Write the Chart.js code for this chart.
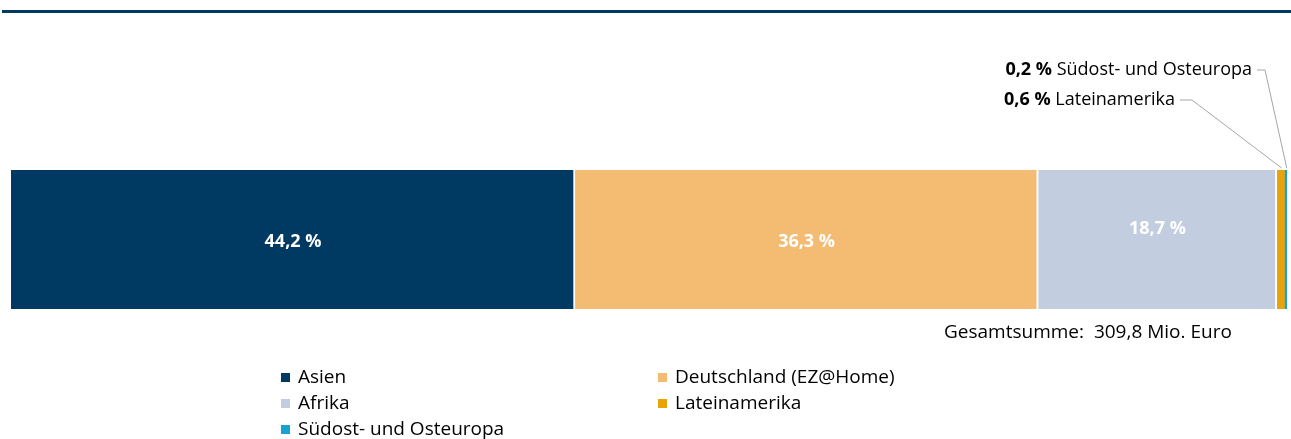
<!DOCTYPE html>
<html>
<head>
<meta charset="utf-8">
<script src="https://cdn.jsdelivr.net/npm/chart.js@4.4.0/dist/chart.umd.min.js"></script>
<style>
  body { margin: 0; background: #fff; font-family: "Open Sans", sans-serif; }
  #wrap { position: relative; width: 1291px; height: 439px; overflow: hidden; }
  #topline { position: absolute; left: 2px; right: 0; top: 10px; height: 3px; background: #003a63; }
  #total { position: absolute; left: 944px; top: 318px; font-size: 19px; color: #000; white-space: nowrap; }
  #legend { position: absolute; left: 281px; top: 363px; display: grid; grid-template-columns: 377px auto; font-size: 19px; line-height: 26px; color: #000; }
  #legend .item span { display: inline-block; width: 9px; height: 9px; margin-right: 8px; vertical-align: 1px; }
  canvas { position: absolute; left: 0; top: 0; }
</style>
</head>
<body>
<div id="wrap">
  <div id="topline"></div>
  <canvas id="bar-chart" width="1291" height="439"></canvas>
  <div id="total"></div>
  <div id="legend"></div>
</div>
<script>
const regions = ["Asien", "Deutschland (EZ@Home)", "Afrika", "Lateinamerika", "Südost- und Osteuropa"];
const shares = [44.2, 36.3, 18.7, 0.6, 0.2];
const colors = ["#003a63", "#f4bb73", "#c2cde0", "#e9a30a", "#17a2d2"];
const totalSum = "309,8";

// where the small shares get their callout text (right edge, vertical middle)
const callouts = {
  3: { x: 1175, y: 100, tick: 12 },
  4: { x: 1252, y: 70, tick: 8 }
};
const labelShift = [2, 2, -11];

function fmt(v) {
  return v.toFixed(1).replace(".", ",");
}

const labelPlugin = {
  id: "segLabels",
  afterDatasetsDraw(chart) {
    const ctx = chart.ctx;
    ctx.save();
    chart.data.datasets.forEach((ds, i) => {
      const bar = chart.getDatasetMeta(i).data[0];
      const cx = (bar.x + bar.base) / 2;
      if (!callouts[i]) {
        ctx.font = "bold 18px 'Open Sans', sans-serif";
        ctx.fillStyle = "#fff";
        ctx.textAlign = "center";
        ctx.textBaseline = "middle";
        ctx.fillText(fmt(ds.data[0]) + " %", cx, bar.y + labelShift[i]);
        return;
      }
      const c = callouts[i];
      const name = " " + ds.label;
      ctx.textBaseline = "middle";
      ctx.textAlign = "right";
      ctx.font = "18px 'Open Sans', sans-serif";
      ctx.fillStyle = "#000";
      ctx.fillText(name, c.x, c.y);
      const w = ctx.measureText(name).width;
      ctx.font = "bold 18px 'Open Sans', sans-serif";
      ctx.fillText(fmt(ds.data[0]) + " %", c.x - w, c.y);
      // leader line
      ctx.strokeStyle = "#a6a6a6";
      ctx.lineWidth = 1;
      ctx.beginPath();
      ctx.moveTo(c.x + 5, c.y);
      ctx.lineTo(c.x + 5 + c.tick, c.y);
      ctx.lineTo(cx + 1, bar.y - bar.height / 2 - 2);
      ctx.stroke();
    });
    ctx.restore();
  }
};

const config = {
  type: "bar",
  data: {
    labels: [""],
    datasets: regions.map((r, i) => ({
      label: r,
      data: [shares[i]],
      backgroundColor: colors[i],
      borderColor: "#fff",
      borderWidth: i < 3 ? { right: 2 } : 0,
      borderSkipped: false,
      barPercentage: 1,
      categoryPercentage: 1
    }))
  },
  options: {
    indexAxis: "y",
    responsive: false,
    animation: false,
    layout: { padding: { left: 11, right: 4, top: 170, bottom: 130 } },
    scales: {
      x: { stacked: true, min: 0, max: 100, display: false },
      y: { stacked: true, display: false }
    },
    plugins: {
      legend: { display: false },
      tooltip: { enabled: false },
      title: { display: false }
    }
  },
  plugins: [labelPlugin]
};

var ctx = document.getElementById("bar-chart").getContext("2d");
var myChart = new Chart(ctx, config);

document.getElementById("total").textContent = "Gesamtsumme:\u00a0 " + totalSum + " Mio. Euro";
const legendOrder = [0, 1, 2, 3, 4];
document.getElementById("legend").innerHTML = legendOrder
  .map(i => '<div class="item"><span style="background:' + colors[i] + '"></span>' + regions[i] + "</div>")
  .join("");
</script>
</body>
</html>
